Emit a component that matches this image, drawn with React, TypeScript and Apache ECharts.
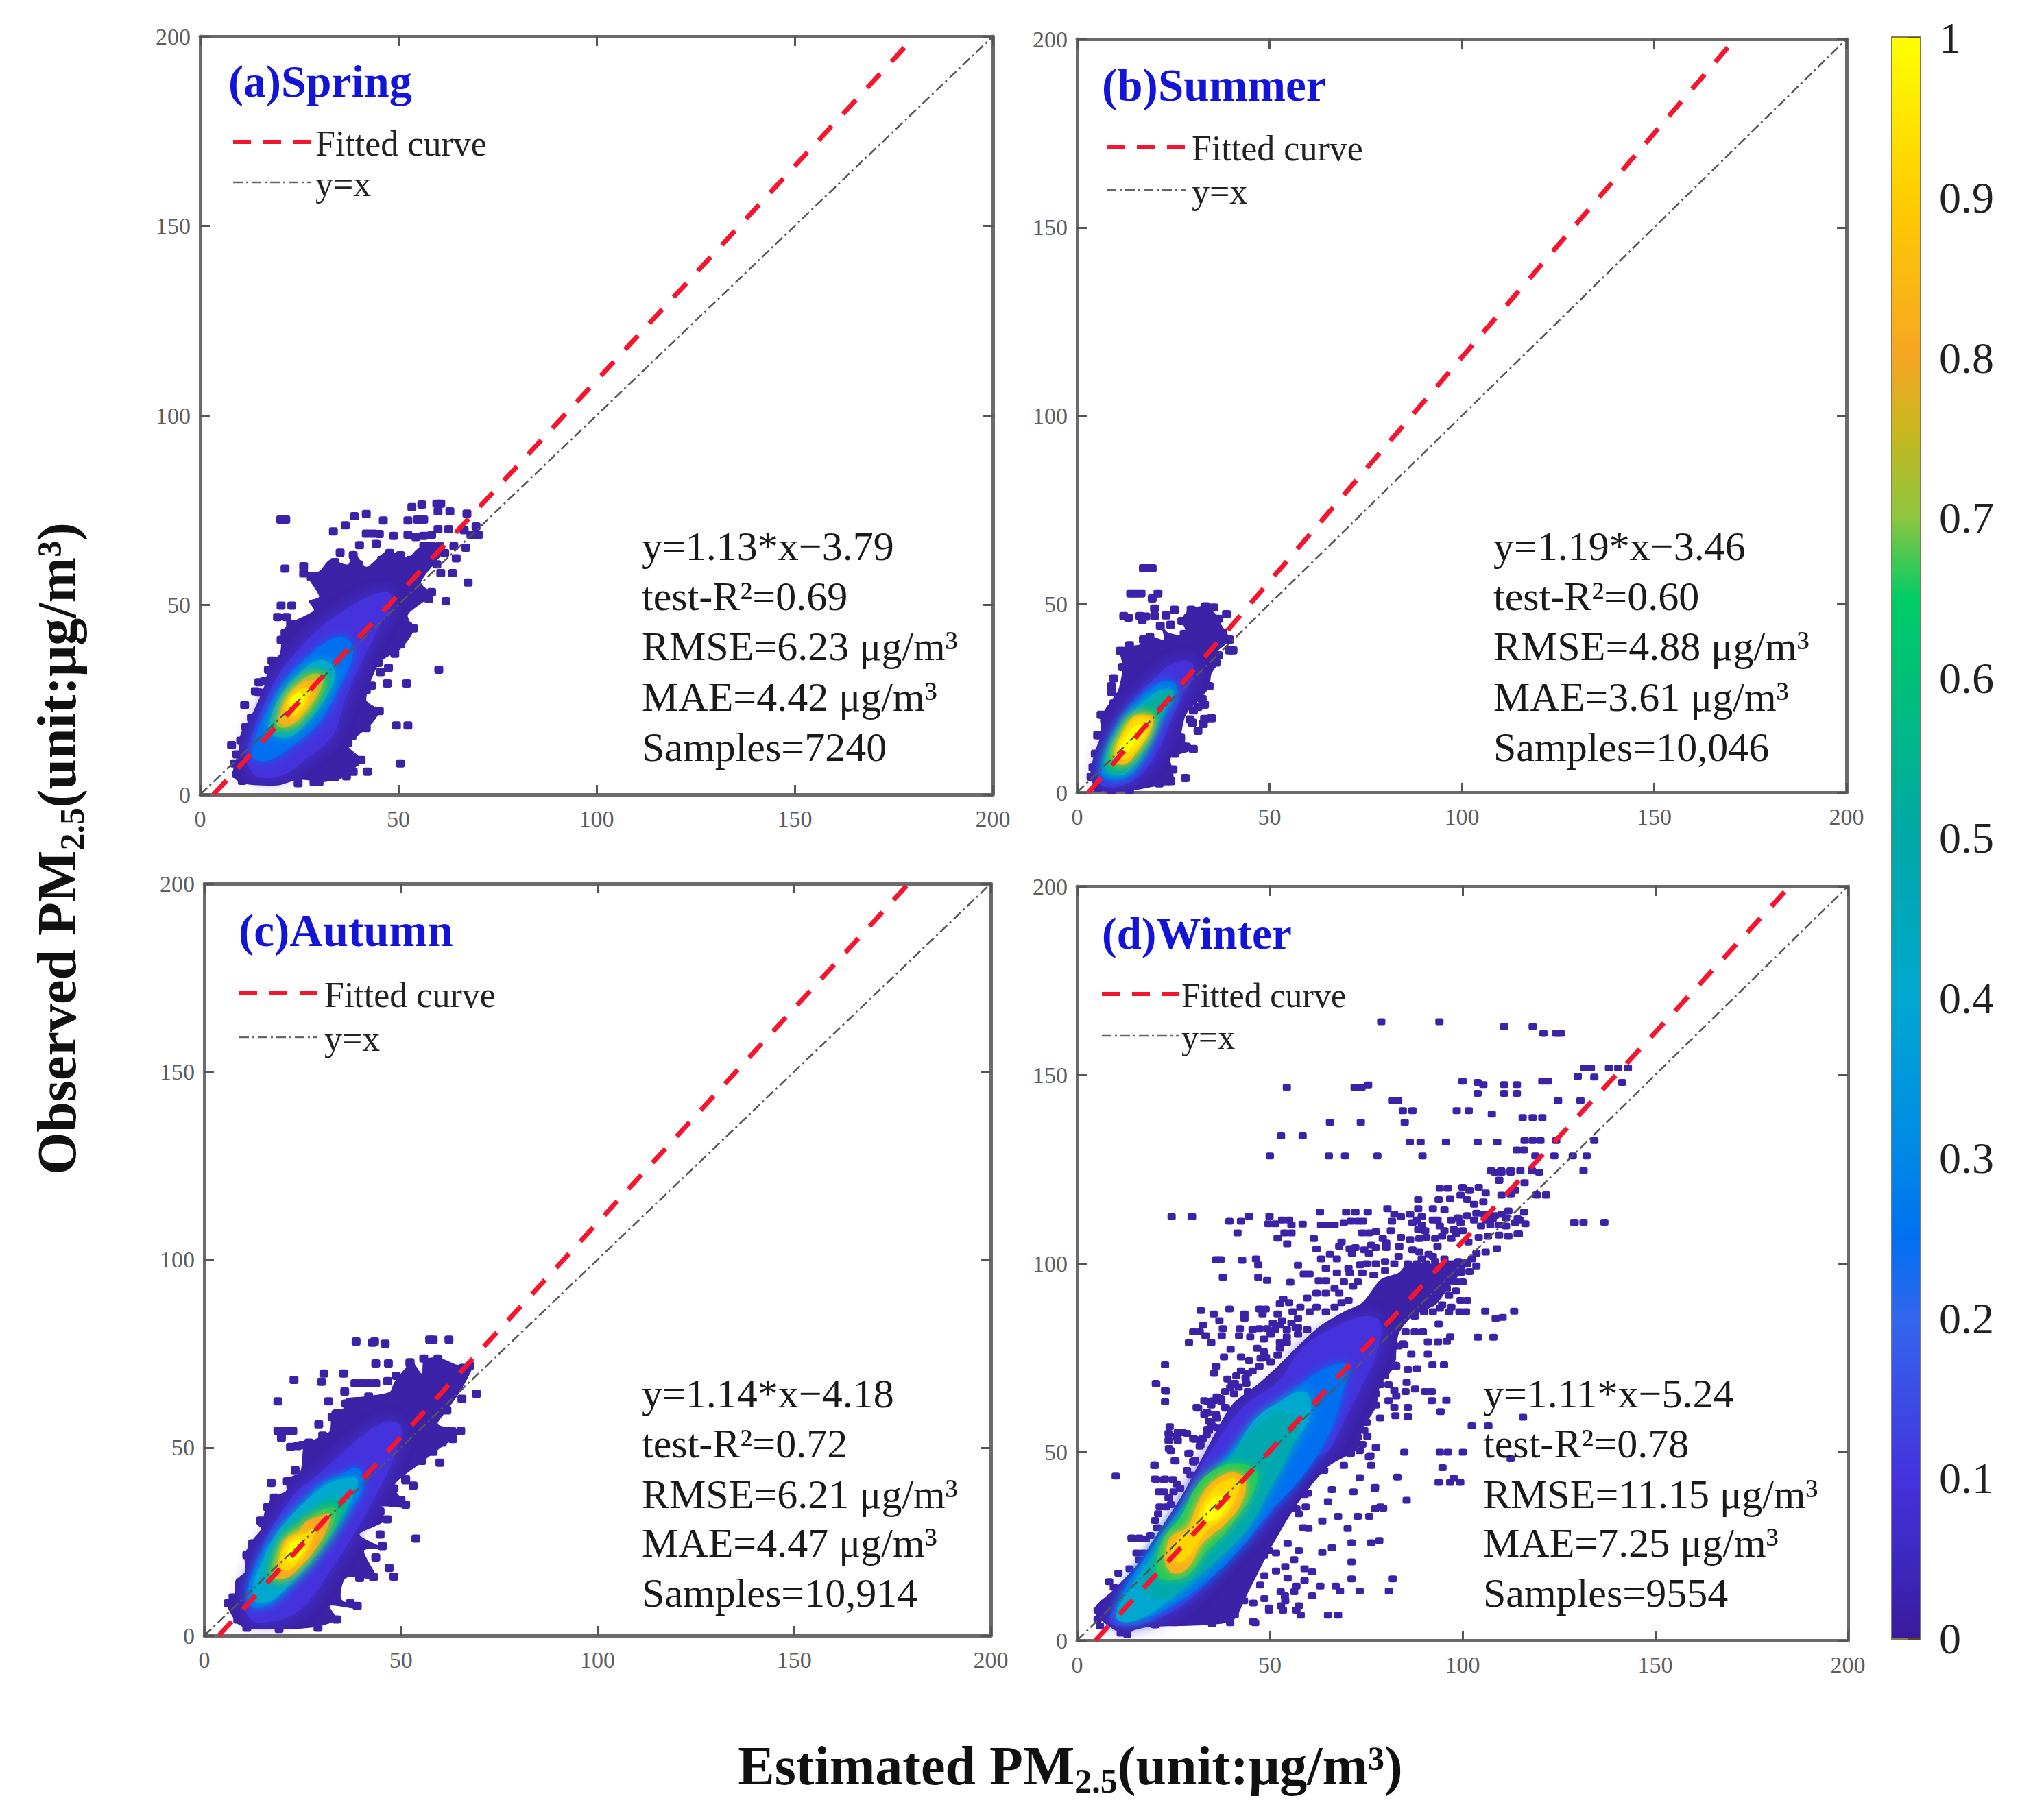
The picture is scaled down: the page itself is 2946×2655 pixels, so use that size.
import React, { useEffect, useRef } from "react";
import * as echarts from "echarts";

type P = number[];

const barTicks = ["0", "0.1", "0.2", "0.3", "0.4", "0.5", "0.6", "0.7", "0.8", "0.9", "1"];
const colorStops: [number, string][] = [
  [0, "#3a1a9a"], [0.05, "#3d28c0"], [0.1, "#4433dd"], [0.2, "#3366ee"], [0.25, "#0070f0"], [0.3, "#0088e8"],
  [0.4, "#00a8d0"], [0.5, "#00a8a8"], [0.6, "#00c078"], [0.65, "#00cc66"], [0.7, "#8cc63f"], [0.75, "#c4b820"],
  [0.8, "#f5a623"], [0.9, "#ffcc00"], [1, "#ffff00"],
];

const fitA: P[] = [[3.35, 0], [180.3, 200]];
const fitB: P[] = [[2.91, 0], [171, 200]];
const fitC: P[] = [[3.67, 0], [179.1, 200]];
const fitD: P[] = [[4.72, 0], [184.9, 200]];
const identity: P[] = [[0, 0], [200, 200]];

/* ---------- density contours: [level, outline] ---------- */
const springContours: [number, P[]][] = [
  [0.02, [[8.2,5.4],[10.2,3],[19.5,2.4],[24.7,3.9],[31.3,3.3],[35.9,4.5],[40.6,9.1],[37.3,13],[42.5,17.8],[45.2,22],[41.9,25],[45.2,34.7],[50.5,38.3],[53.8,43.2],[52.4,47.4],[58.4,52.8],[55.7,55.9],[61.7,64.9],[55.1,64.9],[52.4,62.5],[47.2,64.3],[41.9,60.1],[38.6,64.3],[37.3,60.7],[32.7,61.9],[30,58.9],[26.7,58.3],[30,52.2],[27.4,51],[28.7,48.6],[23.4,45.6],[20.8,43.2],[20.1,37.1],[17.5,34.7],[16.2,28.7],[12.9,20.8],[10.2,16],[9.6,11.2]]],
  [0.1, [[12.9,6.3],[14.8,4.5],[20.8,5.1],[26.7,9.4],[33.3,15.4],[36.6,25.1],[40.6,34.7],[45.2,44.4],[48.5,50.4],[47.2,53.4],[41.2,51.6],[34.6,47.4],[29.4,43.2],[23.4,36.5],[19.5,31.1],[16.2,23.9],[13.5,16.6],[11.5,10]]],
  [0.25, [[13.5,9.4],[17.5,9.1],[23.4,13],[30,19],[34.6,27.5],[38.6,37.1],[36.6,41.4],[32.7,40.8],[26.1,35.3],[20.8,29.3],[16.8,22],[14.2,16],[13.2,11.8]]],
  [0.4, [[17.5,16.6],[22.1,15.1],[26.1,18.1],[30.7,23.9],[34,31.1],[32.7,34.7],[29.4,35.3],[24.7,31.7],[20.8,26.9],[18.1,21.4]]],
  [0.6, [[18.5,17.2],[22.1,16.9],[26.7,20.2],[31.3,26.9],[32.3,31.7],[28.7,32.6],[24.7,29.9],[21.4,25.7],[19.5,20.8]]],
  [0.72, [[19.5,18.1],[22.8,18.1],[26.7,22],[30,26.9],[31,31.1],[28,31.7],[24.4,28.7],[21.8,25.1],[20.1,21.4]]],
  [0.82, [[20.4,18.7],[23.4,19],[27,23.2],[29.4,27.5],[29.4,29.9],[26.7,29.9],[23.7,27.5],[21.4,24.2],[20.4,21.4]]],
  [0.92, [[22.1,20.8],[24.7,21.4],[27.4,25.7],[28,28.1],[26.1,28.1],[23.1,25.7],[21.8,23.2]]],
  [1, [[23.4,22],[26.1,25.1],[24.7,26.9],[22.8,24.5]]],
];
const summerContours: [number, P[]][] = [
  [0.02, [[3.6,3.3],[5.3,0.6],[13,0.3],[21.3,1.8],[24.9,2.4],[24.9,5.8],[24.3,9.1],[30.2,11.5],[27.2,14.5],[27.8,19.4],[29,21.8],[31.4,24.2],[34.3,27.9],[34.9,31.5],[36.7,34.5],[36.1,37],[39.6,40.6],[37.3,44.8],[36.1,47.3],[33.1,49.4],[29.6,48.8],[27.2,46.1],[28.4,41.8],[23.7,42.4],[21.9,44.2],[22.5,40.6],[17.8,41.8],[16.6,39.4],[11.2,38.2],[11.8,33.3],[10.7,27.3],[8.3,23.6],[6.5,20.6],[5.9,14.5],[4.4,10.3],[3.3,4.2]]],
  [0.1, [[5.3,3.6],[7.1,1.5],[12.4,2.1],[17.2,5.5],[21.3,11.5],[24.3,18.8],[27.2,25.5],[30.2,30.9],[29.6,34.5],[25.4,34.5],[21.3,31.5],[16.6,26.7],[12.4,21.8],[9.5,16.4],[7.1,10.3]]],
  [0.25, [[6.2,4.5],[9.5,3.3],[13.6,4.5],[17.2,9.1],[20.1,15.2],[23.1,21.8],[26,27.3],[23.7,29.7],[19.5,27.9],[15.4,24.2],[11.5,19.4],[8.6,14],[6.8,8.5]]],
  [0.4, [[7.1,6.4],[10.7,4.5],[13.9,6.1],[17.2,10.9],[19.8,16.4],[22.8,22.4],[24.9,26.7],[22.2,27.3],[18.9,25.5],[15.4,22.4],[11.8,17.9],[8.9,12.7]]],
  [0.52, [[7.4,6.1],[10.9,5.2],[14.5,7.6],[17.8,12.7],[20.4,18.8],[23.7,24.2],[24.9,26.7],[23.1,26.7],[19.5,24.2],[16,21.2],[12.1,17],[9.5,12.1]]],
  [0.65, [[8.3,7.3],[11.5,7],[15.1,10.3],[18.6,15.5],[20.1,20.6],[17.8,21.2],[13.9,20],[10.9,15.2],[8.9,11]]],
  [0.82, [[9.8,8.2],[12.7,7.6],[16,11.5],[19,16.4],[19.8,20],[17.8,20.6],[14.5,20],[12.1,16.4],[9.8,11.5]]],
  [0.92, [[10.4,9.1],[12.7,8.8],[15.7,12.1],[18.3,16.4],[18.9,19.4],[16.6,20],[14.2,18.8],[12.1,15.2],[10.4,11.5]]],
  [1, [[11.2,10.9],[13.6,11.5],[16.6,15.2],[17.5,17.6],[15.7,17.9],[13.6,15.8],[11.5,12.7]]],
];
const autumnContours: [number, P[]][] = [
  [0.02, [[5.6,8.6],[8.5,3.1],[12,1.8],[23.7,1.8],[28.9,2.4],[33.6,4.3],[31.9,7.9],[39.5,7],[34.8,9.8],[36,15.3],[43.6,15.3],[40.6,22.6],[45.3,23.2],[39.5,26.9],[45.9,30.6],[44.7,34.2],[51.8,34.2],[48.2,39.7],[55.8,46.5],[58.8,48.9],[65.2,54.4],[59.4,56.2],[61.7,59.9],[64.6,64.2],[68.1,71.5],[64,72.1],[59.4,74],[55.8,73.3],[55.3,69.7],[52.9,72.7],[50,69.7],[48.2,67.2],[47.1,64.8],[40.6,63.6],[36,63],[35.4,60.5],[32.5,59.9],[31.9,54.4],[28.9,52.6],[25.4,50.7],[24.9,47.1],[24.3,43.4],[20.8,41.6],[20.8,38.5],[17.3,36.7],[15.5,33.6],[14.3,28.1],[12,25.1],[10.2,21.4],[10.4,17.1],[8,14.7],[7.5,10.4]]],
  [0.1, [[10.4,7],[12.5,3.8],[16.1,3.6],[21.9,5.2],[26.6,9.2],[31.9,17.1],[38.3,27.5],[44.2,38.5],[48.8,48.9],[50,55.6],[45.9,56.8],[39.5,52.6],[34.8,48.3],[28.9,42.8],[23.7,38.5],[19.5,32.6],[15.9,26.3],[12.6,18.3],[10.8,12]]],
  [0.25, [[10.8,9.6],[12.6,7.3],[16.7,8.6],[21.3,12.8],[26.6,18.9],[31.9,26.3],[36.5,33],[40.4,39.7],[38.9,44.6],[34.8,42.8],[30.1,40.3],[24.9,34.8],[19,28.1],[14.9,22],[11.8,14.7]]],
  [0.4, [[12.6,10.1],[13.7,8.6],[17.8,9.8],[23.1,15.3],[27.8,20.8],[33,28.7],[37.1,35.5],[38.9,41.6],[34.8,41.6],[31.3,40.3],[27.2,37.2],[21.9,31.7],[17.8,26.2],[14.3,18.8],[12.6,14.1]]],
  [0.55, [[16.1,15],[18.4,14.1],[23.7,17.1],[28.9,22.6],[33.6,29.3],[36,34.8],[34.2,36.1],[31.3,35.8],[26.6,32.4],[21.9,28.7],[18.4,23.2],[16.7,18.3]]],
  [0.66, [[17,15.3],[19,14.7],[23.1,17.1],[27.8,22.6],[31.9,28.1],[33.6,33.6],[31.3,33.9],[28.4,32.4],[24.9,29.6],[20.8,26.3],[17.8,20.8]]],
  [0.8, [[17.8,15.6],[20.8,15.3],[24.3,18.3],[28.4,23.2],[31.3,28.7],[31.9,32.4],[29.5,31.8],[26,30.3],[23.7,27.5],[20.8,25.7],[19,20.8]]],
  [0.92, [[19.6,17.7],[21.9,17.7],[24.9,21.4],[27.2,25.1],[28.4,28.7],[26,27.5],[23.1,26.3],[21.1,24.5],[19.6,21.4]]],
  [1, [[21.1,20.2],[23.1,20.2],[25.4,23.2],[24.6,25.1],[22.5,25.1],[21.3,22.9]]],
];
const winterContours: [number, P[]][] = [
  [0.02, [[4.9,6.7],[11,2.2],[18.2,3.5],[40,5],[44,12],[50,24],[57,36],[65,46],[72.8,50.8],[73.9,55.7],[77.5,61.8],[78.7,67.8],[82.3,72.7],[83.4,81.2],[87,86],[93,89],[96,93],[100,98],[103.6,101.8],[98.3,100.5],[93.5,99.9],[85.8,99.9],[83.4,97.5],[78.7,95.7],[74,89.6],[69.2,87.2],[63.3,83.6],[57.9,78.7],[52,72.7],[46.7,67.8],[40.1,62.4],[32.6,48.8],[27.9,39.7],[20,27],[15.5,20],[9,13],[4.9,9.2]]],
  [0.1, [[8.3,5],[13.6,3.8],[23.1,6.8],[31.4,12.9],[39.7,22.6],[48.6,31.8],[60.5,48.2],[65,50.2],[69.8,59.3],[74,67.8],[77.5,75.7],[78.7,84.2],[75.1,86],[68,83.6],[59,78],[51.6,68.2],[43.3,62.2],[33.8,48.8],[26.7,36],[19.5,22.5],[12,11.5]]],
  [0.25, [[10.5,7.5],[16,5.6],[25,9.5],[34,16],[42,24],[50,34],[58,43],[65,54],[69,66],[70,73],[64,72],[56,66],[48,57.5],[40,50],[32,41],[24,31],[17,21],[12,13]]],
  [0.4, [[10.1,6.2],[14.2,5],[21.9,9.2],[30.2,16.5],[36.8,22.6],[44.5,33.6],[54.6,50],[60.5,60.3],[59,66],[52,63],[45.7,58],[39.2,47],[30.8,35.4],[21.3,24.5],[13.6,13.5]]],
  [0.48, [[17,14.5],[22,11],[30,16],[37,22],[44.5,30],[50,40],[55,50],[57,58],[52,60],[45,55],[39,47],[32,40],[26,31],[21,24]]],
  [0.66, [[21,17],[24.5,16],[29,17.5],[33,23],[37,27],[41,32],[46,40],[46.5,45],[41,47],[36,45.5],[31,41],[27,33],[23,28],[21,23]]],
  [0.82, [[22.8,20.8],[24.9,17.8],[28.5,19],[32,25.1],[34.4,27.5],[38.6,31.1],[42.7,36.6],[43.6,42.7],[40.9,44.5],[36.8,43.3],[32.6,39],[30.2,33.6],[28.5,29.9],[24.3,27.5],[23.1,23.9]]],
  [0.92, [[26.1,20.8],[29.1,22.6],[33.2,28.7],[38.6,33.6],[41.5,39],[42.1,42.7],[39.1,42.7],[35,39.7],[32,34.8],[29.7,29.9],[26.1,26.9],[24.3,23.2]]],
  [1, [[33.2,31.8],[36.2,32.4],[39.1,36.6],[37.9,38.4],[35,37.2],[33.2,34.5]]],
];

/* ---------- isolated samples and the jagged fringe ---------- */
const springPoints: P[] = [[20.3,72.5],[21.6,72.5],[53.4,75.8],[55.9,76.5],[59.7,76.7],[60.7,76.7],[60,74.7],[63,74.7],[67.3,74.1],[38.9,73.4],[41.9,74],[46.2,72.3],[52.4,72.3],[54.8,72.5],[56.4,72.5],[36.6,71],[33.6,69.4],[41.9,68.8],[43.5,68.8],[45.2,68.7],[48.8,68.2],[52.4,68.5],[54.4,67.9],[56.4,68.2],[58.4,68.5],[60,70],[62.7,70],[66.6,69.7],[69.6,70.7],[70.2,68.5],[68.3,68.5],[40.2,65.8],[44.4,66.1],[56.4,65.5],[58.4,65.5],[60.4,65.5],[64,65.5],[67,65.1],[55.7,63.1],[64.6,62.3],[35.3,63.8],[21.4,59.6],[26.1,60.2],[60.7,58.4],[63.7,58.4],[67.6,55.9],[62,51],[20.4,49.8],[23.1,49.8],[19.5,46.8],[47.5,33.4],[60.2,32.9],[47.2,29.3],[52.1,29.3],[14.8,29.6],[13.9,27.2],[11.2,23.6],[49.5,18.2],[52.4,18.2],[50.5,8.2],[38.3,15.4],[42.2,6],[38.6,6],[36.9,4.8],[34,4.6],[7.9,13],
  [26.1,58.3],[28,57.4],[30,56.2],[32.7,60.1],[34,61.3],[35.9,58.9],[38.6,63.1],[39.9,60.7],[45.8,61.9],[47.8,63.7],[50.5,63.1],[53.1,61.9],[57.7,65.5],[61.7,63.7],[59.7,60.7],[21.8,46.8],[22.8,45],[21.4,42.6],[20.4,40.8],[18.1,35.3],[17.2,32.9],[16.2,29.9],[14.8,26.9],[12.9,20.2],[11.5,17.8],[10.2,14.2],[9.2,10.6],[8.6,8.2],[9.2,5.4],[10.6,3.6],[58.4,53.4],[57.7,51.6],[53.8,43.8],[52.4,44.4],[50.5,39.6],[49.1,37.1],[44.9,34.7],[45.5,32.3],[43.2,28.7],[41.9,27.5],[45.2,22],[43.2,20.8],[41.9,17.5],[39.2,19],[37.3,13.6],[40.6,9.1],[38.9,8.5],[35.9,8.8],[34.6,5.1],[30,3.3],[28.7,3.3],[24.7,3]];
const summerPoints: P[] = [[17.2,59.5],[18.3,59.5],[19.5,59.5],[13.9,52.8],[15.1,52.8],[16.6,52.8],[21,52.8],[19.5,51.5],[20.1,48.8],[25.3,48.5],[12.1,46.8],[13.3,46.4],[16.3,46.8],[17.8,46.7],[16.9,45.8],[20.1,46.8],[23.1,47],[21.6,44.2],[24.3,44.5],[38.8,47.3],[40.5,37.7],[39.6,37.7],[9.5,30.3],[8.9,28.2],[33.1,23.3],[34.9,19.7],[33.1,19.5],[32.8,18.2],[31.4,16.4],[29.9,18.5],[28.1,3.8],[23.4,3],[5.6,15.2],
  [11.2,37.6],[13.6,39.1],[13,34.5],[11.8,33.3],[8.9,26.7],[9.5,23.6],[6.2,20.6],[7.1,19.4],[5.3,15.2],[6.8,15.2],[4.7,10.3],[4.1,6.7],[3.6,4.2],[5.3,1.2],[8.9,0.6],[13.6,0.6],[21.3,2.4],[24.3,3],[24.9,6.1],[25.4,10.3],[30.2,11.5],[28.4,12.1],[26.9,14.5],[30.2,21.8],[31.4,22.7],[29.3,19.4],[32.5,24.8],[34.3,28.2],[36.1,34.5],[36.7,36.4],[39.6,40.6],[37.9,42.4],[36.7,46.1],[33.4,49.4],[35.5,49.1],[29.6,48.5],[27.2,45.5],[27.8,42.1],[18.9,41.2],[17.2,40.6]];
const autumnPoints: P[] = [[38.6,78.2],[42.7,77.9],[43.3,78.2],[46,77.6],[57.3,78.7],[58.2,78.7],[62.2,78.7],[43.6,72.4],[46.8,72.4],[52.3,72.4],[30.4,69.7],[29.8,67.5],[35.4,69.7],[22.8,68],[38.3,67.1],[40,67.1],[41.8,67.1],[43.6,67.1],[46.6,67.7],[35.7,64.9],[18.7,62.3],[31.6,62.3],[69.2,64.3],[65.5,63],[29.1,56.2],[18.7,54.4],[20.5,54.4],[22.5,54.4],[19.6,52.6],[21.9,50.2],[23.7,50.4],[59.9,46],[17,40.6],[51.2,41.3],[53.1,39.9],[53.8,25.8],[14.9,30],[47,18],[48.2,15.7],[63.2,52.3],
  [6.1,8.6],[7.3,10.1],[9.1,14.1],[10.8,21.4],[12.3,24.5],[14.3,30.6],[16.1,34.2],[17.8,36.7],[21.1,41],[23.1,44],[24.9,50.7],[26.6,51.3],[30.1,53.2],[32.5,58.1],[36,61.7],[41.8,63.6],[48.8,69.1],[52.3,72.7],[55.8,73.7],[59.4,73.7],[62.3,71.5],[65.8,71.2],[67.5,71.8],[60.5,66.6],[64.6,66.6],[61.7,59.9],[65.2,54.4],[62.9,54.4],[60.5,51.3],[58.2,48.9],[55.3,46.5],[51.2,41.6],[48.2,39.1],[51.2,34.8],[50,36.1],[44.7,33],[46.5,30.9],[44.7,26.9],[45.3,23.8],[43.6,20.8],[43,15.6],[39.5,15.3],[38.9,7.9],[37.1,8.6],[33.6,4.3],[28.9,2.1],[19,1.8],[10.8,2.1],[8.5,4.3]];
const winterSparseTop: P[] = [[78.9,164.1],[94,164.1],[110.8,162.8],[118.2,162.8],[121,161],[124.3,161],[125.5,161],[54.4,146.7],[72,146.7],[73.8,146.7],[75.5,147.3],[100,148.3],[103.9,148],[105.4,147.4],[103.9,145.1],[110.8,147.4],[110.8,145.1],[114.1,147.4],[114.1,145.1],[120.7,148.3],[122.2,148.3],[124.8,143.2],[129.9,149.6],[131.6,151.8],[133.3,151.8],[134.2,149.4],[130.6,143.2],[138,151.8],[140.4,151.8],[142.9,151.8],[141.4,148],[81.9,143.2],[83.3,143.2],[84.5,140.5],[87,140.5],[85,137.4],[65.6,137.4],[73.6,137.4],[98.5,140.5],[101.6,140.5],[107.6,139.6],[115.6,138.7],[118.2,138.7],[120.7,138.7],[52.9,133.8],[58.5,133.8],[86.3,132.2],[89.1,132.2],[95.7,132.2],[103.9,132.2],[109,132.2],[116.1,132.6],[118.2,132.6],[120.2,132.6],[124.3,132.6],[134.2,132.6],[114.1,130.1],[115.9,130.1],[50,128.5],[65.3,128.5],[69.5,128.5],[77.9,128.5],[89.6,128.5],[118.9,128.5],[123.8,128.5],[128.6,128.5],[132.2,128.5],[131.4,124.6],[107.4,124.6],[110,124.6],[112.5,124.6],[115,124.6],[118,124.6],[109.5,122],[116.1,121.4],[119.2,118.2],[121.7,118.2],[128.9,110.9],[131.4,110.9],[136.8,110.9],[24.5,112.4],[29.7,112.4],[119.9,124.2],[116,113.6],[116.3,110.5],[114.6,107.8],[114.3,111.8],[129.1,110.8]];
const winterMiddle: P[] = [[29.8,112.4],[39.5,111.2],[42.5,111.2],[44.6,112.5],[49.9,112.5],[41.6,108.1],[49.6,110.5],[51.4,110.5],[53.2,111.5],[55,111.5],[55.6,110.2],[58.5,110.4],[63,113.6],[63.3,110.2],[65,110.2],[66.8,110.2],[69.2,110.8],[71,111.2],[72.8,111.2],[74.2,111.2],[69.8,113.6],[72.2,113.6],[75.4,113.6],[80.5,114.5],[53.8,108.1],[55.6,108.1],[52,106.7],[54.5,105.2],[61.4,106.6],[62.1,103.8],[74,108.1],[75.7,108.1],[77.5,108.4],[79.3,106.6],[80.2,105.4],[81.4,108.7],[68.6,105.7],[68,104.5],[70.7,103.9],[72.2,104.2],[71.3,102.7],[74.5,103.6],[76.3,104.8],[75.7,102.7],[77.5,104.2],[80.2,104.2],[83.6,104.5],[82.3,113],[84,112.4],[86.4,113],[88.2,111.5],[89.4,112.4],[88.5,116.9],[88.5,114.5],[92.3,114.5],[95.3,114.2],[93.8,116.9],[96.8,117.2],[94.1,119.9],[96.2,119.9],[92.3,111.5],[93.5,111.5],[88.5,109],[95.3,108.7],[97.7,109],[97.1,111.5],[98.9,112.1],[81.7,111.2],[84,106.9],[86.4,106.3],[88.8,106.6],[90.6,106.9],[92.9,106.6],[97.1,106.6],[93.5,104.5],[87,103.6],[88.8,103],[91.2,102.4],[92.3,101.8],[89.4,101.2],[100,120.2],[101.8,119.3],[99.5,118.1],[101.2,116.9],[103,115.7],[105.4,116.3],[106,118.7],[104.2,120.2],[108.4,124.2],[110.1,124.2],[112.5,124.2],[109.5,122.1],[110.1,118.1],[112.5,118.4],[113.7,119.3],[119.3,118.1],[121.7,118.1],[101.2,112.7],[103,111.5],[103.6,113.3],[106,111.5],[107.8,111.8],[110.1,113],[111.3,112.1],[109.5,110.2],[113.7,110.8],[114.9,111.5],[104.2,106.9],[106.6,107.2],[109.5,107.5],[111.9,107.2],[114.3,107.8],[108.9,103.9],[101.5,105.7],[103.6,102.7],[106,103],[102.4,101.2],[103.6,99.3],[101.8,97.8],[99.5,97.5],[100,95.1],[98.3,92.7],[99.5,90.2],[101.2,90.2],[99.2,87.2],[100.9,87.2],[96.5,87.2],[94.1,88.1],[105.9,87.3],[108.6,85.4],[110.4,85.7],[113.4,87.3],[93.8,83.9],[89.7,81.8],[87.6,81.8],[85.2,81.8],[84.9,78.4],[91,79.2],[93.6,79.2],[95.9,79.3],[96.8,80.5],[104,80.4],[108,80.4],[86.7,75.9],[91,75.9],[82.5,73],[92.2,73.1],[95.2,73.1],[85.8,71.8],[88.2,72.1],[85.5,68.4],[80.8,67.8],[82.3,66.3],[85.2,66],[87.7,66.7],[90.3,66],[92,66],[82.8,64.8],[80.8,63.6],[92,63.6],[95.8,63.7],[82.3,61.8],[82.6,59.6],[85.8,61.8],[85.8,59.3],[94.3,60.7],[78.6,59],[75.4,60.5],[75.1,57.8],[102.4,56.9],[106.7,56.9],[77.5,51.2],[84.9,49.9],[94.1,49.9],[96.2,49.9],[100.1,49.9],[75.7,48.7],[115.7,59.2],[112.5,48.2],[94.8,45.8],[83.1,43.3],[93.8,41.9],[96.8,41.9],[97.7,43],[99.4,41.9],[77.2,40.2],[85.5,37.2],[78.7,35.4]];
const winterDenseBand: P[] = [[87,110.8],[89.4,110.2],[90.3,108.7],[94.1,109.9],[94.7,107.2],[98.3,107.8],[100,108.7],[99.5,110.8],[105.4,113],[108.4,112.7],[107.2,110.2],[104.8,109.9],[111.3,109.9],[111.9,113.9],[85.8,99.9],[88.2,99.9],[90.6,99.9],[92.9,100.5],[95.3,101.2],[97.1,99.9],[98.9,100.5],[101.2,99.9],[87,97.5],[89.4,96.9],[93.5,96.9],[95.3,97.5],[97.7,98.7],[96.5,96.9],[99.5,99],[95.9,93.3],[98.3,95.1],[96.5,91.5],[94.7,89],[97.1,88.4],[92.3,87.2],[90,87.2],[87.6,86],[75.1,99.9],[77.5,99.9],[79.9,100.5],[82.3,99.9],[83.4,101.8],[74,97.5],[76.9,96.9],[79.9,98.1],[72.8,95.1],[71.6,93.9],[68,92.1],[70.4,90.2],[68.6,89.6],[66.8,88.4],[64.5,87.2],[62.1,88.4],[60.3,87.2],[57.9,88.4],[57.3,85.4],[55.6,84.2],[52.6,83.6],[54.4,80.5],[56.7,83],[59.7,82.4],[61.5,80.5],[50.8,84.2],[50.2,81.2],[48.4,79.9],[52.6,77.5],[52,75.7],[49,75.1],[50.2,73.9],[47.3,72.7],[45.5,71.5],[43.7,69.6],[41.9,67.2],[44.3,66],[40.7,65.4],[37.2,64.2],[34.8,62.4],[33,59.9],[36,59.9],[38.4,61.8],[34.2,58.1],[36.6,56.3],[33.6,54.5],[31.8,51.5],[30.6,47.8],[83.4,78.1],[84.6,78.7],[81.1,77.5],[81.7,75.1],[82.8,72.7],[79.9,70.2],[78.7,67.8],[77.5,65.4],[77.5,62.4],[74,64.2],[72.8,61.8],[71.6,59.9],[73.4,58.1],[71,56.3],[74.5,55.7],[72.8,53.9],[69.8,53.3],[69.2,51.5],[74,52],[68,49.6],[71,49.6],[66.2,48.4]];
const winterLeftFringe: P[] = [[36,101],[37.2,101],[42.8,100.8],[46.4,101.2],[47,99.6],[37.8,96.3],[47,96.3],[49.3,95.5],[55.3,95],[57.3,99.5],[58.8,97.2],[60.3,97.2],[63.3,101.2],[65.6,102.4],[67.4,101.2],[64.5,98.7],[67.4,97.5],[62.7,95.4],[64.5,95.4],[70.4,98.7],[70.7,97.5],[73.4,99.6],[53.5,90.5],[55,89.6],[52.6,89.3],[59.7,90.8],[62.1,92.1],[64.5,92.1],[66.8,93.3],[69.2,95.1],[32.1,87.5],[39.5,87.9],[43.4,86.6],[43.4,85.4],[47.3,87.9],[48.9,87.9],[48.1,86.6],[35.4,86.6],[36.9,84.8],[37.8,82.7],[37.5,80.8],[32.7,83.6],[30.1,81.8],[31.8,81.8],[33.3,80.8],[34.8,79],[29,79],[42.2,82.7],[42,80.8],[45.5,82.4],[47.3,82.7],[44.9,80.5],[49.3,82.7],[52,86.6],[53.2,84.8],[54.4,82.4],[51.4,82.4],[52.6,79],[54.4,79],[55.9,87.2],[57.3,83],[57.3,81.2],[46.7,77.5],[48.4,76.6],[47.6,74.8],[39.8,77.2],[38.1,75.2],[42.5,75.2],[44.6,74.2],[36,72.7],[35.5,70.8],[39,69.3],[41.3,70.2],[42.5,71.5],[44.3,70.8],[38.4,66],[40.1,67.8],[31,61.8],[33,63.6],[35.4,63.6],[33.6,60.5],[34.8,57.5],[34.2,55.7],[27.4,55.1],[30.1,53.6],[32.4,53.3],[28.9,49.6],[30.1,47.5],
  [22.8,73.1],[20.4,68.2],[22.8,66.3],[22.8,63.3],[10,43.6],[20,46.4],[23.8,54.7],[25.8,54.1],[23.8,50.9],[25.3,47.7],[28.9,49.6],[20.2,42.8],[22.8,42.8],[21.2,39.4],[14.1,27.2],[16.1,27.2],[20.5,68],[23.1,66.1],[31.4,61.6],[33.8,63.4],[36.2,64.6],[33.8,60.3],[37.4,63.4],[39.7,67],[40.9,68.2],[43.9,68.2],[38.6,61.6],[24,56.7],[23.7,54.9],[26.1,55.2],[28.5,54.9],[23.7,53],[26.1,53],[30.5,53.3],[32.6,53.6],[35.3,56.7],[33.8,56],[36.2,59],[32,51.8],[24.3,50.3],[29.1,49.7],[25.5,47.6],[30.2,47.3],[20.2,46.4],[28.5,45.1],[29.4,43.9],[20.5,42.7],[22.5,42.7],[24.8,42.7],[25.8,41.5],[22.5,39.4],[25,39.4],[26.7,40.3],[23.7,37.8],[21.4,35.4],[23.1,35.4],[24.3,36],[21,33.6],[20.2,31.8],[20.8,29.9],[19,27.8],[14.2,26.9],[16,26.9],[17.8,26.9],[15.4,23.2],[17.2,23.2],[16,21.4],[13.6,19],[10.7,17.8],[8.3,15.6],[9.5,14.1],[7.1,9.9],[5.3,8],[5.3,5.6],[5.9,3.8],[11.3,1.9],[13,1.6],[13.6,3.2],[20.2,4.1],[25.5,4.7],[30.2,5],[35,4.4],[39.7,4.7]];
const winterRightFringe: P[] = [[40.9,6.8],[37.4,8],[45.7,5],[53.4,8],[56.9,8],[57.5,9.2],[49.8,8],[52.8,12.9],[56.3,12.9],[54,10.5],[43.3,10.5],[45.7,9.9],[48.6,11.1],[47.5,14.7],[48.6,17.2],[51.6,18.4],[54.6,16.5],[59,15.9],[57.5,23.8],[56.3,21.4],[54,19.6],[59,19],[49.8,23.8],[51.6,23.2],[54.6,25.7],[48.6,22.6],[57.5,33.6],[59.3,35.4],[58.7,29.9],[59.9,39],[56.9,38.4],[38.6,12.9],[36.2,10.5],[37.9,6.8],[34.4,6.8],[31,8],[76.1,49],[76.3,46.4],[73.3,43.2],[77.3,40.6],[71.7,39.4],[66.1,40],[65.1,36.8],[77.3,34.9],[79.4,35.1],[72.8,32.9],[75.8,32.9],[67.7,32.9],[70.2,29.7],[76.3,25.9],[78.4,26.5],[81.9,16.3],[80.9,13.1],[71.2,16.3],[73.3,13.1],[68.2,13.1],[65.1,6.7],[67.7,6.7],[63.1,14.4],[67.1,14.4],[58,6.7],[61,11.8],[71.2,25.9],[71.2,20.8],[61,18.2],[63.6,23.3],[66.1,24.6],[56.9,14.4],[52.9,9.2],[46.2,4.7],[49.8,8.6],[53.9,11.8],[63.6,31.7],[60,29.7],[56.9,34.9],[59,38.7],[64.1,45.1],[69.2,46.4],[73.3,50.3],[75.3,54.1]];
const winterPoints: P[] = [...winterSparseTop, ...winterMiddle, ...winterDenseBand, ...winterLeftFringe, ...winterRightFringe];

/* ---------- texts ---------- */
const titles = ["(a)Spring", "(b)Summer", "(c)Autumn", "(d)Winter"];
const springStats = ["y=1.13*x−3.79", "test-R²=0.69", "RMSE=6.23 μg/m³", "MAE=4.42 μg/m³", "Samples=7240"];
const summerStats = ["y=1.19*x−3.46", "test-R²=0.60", "RMSE=4.88 μg/m³", "MAE=3.61 μg/m³", "Samples=10,046"];
const autumnStats = ["y=1.14*x−4.18", "test-R²=0.72", "RMSE=6.21 μg/m³", "MAE=4.47 μg/m³", "Samples=10,914"];
const winterStats = ["y=1.11*x−5.24", "test-R²=0.78", "RMSE=11.15 μg/m³", "MAE=7.25 μg/m³", "Samples=9554"];

const SERIF = "'Liberation Serif', 'Times New Roman', serif";
const INDIGO = "#3b22a6";

const panels = [
  { box: [292, 53, 1156, 1106], contours: springContours, points: springPoints, fit: fitA, stats: springStats, sym: [13, 12], tx: 333, ty: 118, lx: [340, 453], ltx: 460, ly: [209, 268], sx: 936, sy: [797, 870, 943, 1017, 1090], tf: 66, lf: 52 },
  { box: [1571, 57, 1122, 1099], contours: summerContours, points: summerPoints, fit: fitB, stats: summerStats, sym: [13, 12], tx: 1607, ty: 124, lx: [1614, 1729], ltx: 1738, ly: [216, 279], sx: 2178, sy: [797, 870, 943, 1017, 1090], tf: 67, lf: 52 },
  { box: [298, 1289, 1147, 1097], contours: autumnContours, points: autumnPoints, fit: fitC, stats: autumnStats, sym: [13, 12], tx: 348, ty: 1357, lx: [349, 462], ltx: 473, ly: [1451, 1515], sx: 936, sy: [2033, 2106, 2180, 2251, 2324], tf: 67, lf: 52 },
  { box: [1571, 1293, 1124, 1100], contours: winterContours, points: winterPoints, fit: fitD, stats: winterStats, sym: [12, 10], tx: 1607, ty: 1362, lx: [1607, 1719], ltx: 1723, ly: [1452, 1513], sx: 2163, sy: [2033, 2106, 2180, 2251, 2324], tf: 65, lf: 50 },
];

function hexToRgb(h: string) {
  return [parseInt(h.slice(1, 3), 16), parseInt(h.slice(3, 5), 16), parseInt(h.slice(5, 7), 16)];
}
function colorAt(v: number) {
  for (let i = 1; i < colorStops.length; i++) {
    if (v <= colorStops[i][0]) {
      const [a, ca] = colorStops[i - 1];
      const [b, cb] = colorStops[i];
      const t = (v - a) / (b - a);
      const A = hexToRgb(ca), B = hexToRgb(cb);
      return `rgb(${A.map((x, k) => Math.round(x + (B[k] - x) * t)).join(",")})`;
    }
  }
  return colorStops[colorStops.length - 1][1];
}

function axisCommon(gridIndex: number) {
  return {
    gridIndex, type: "value", min: 0, max: 200, interval: 50,
    splitLine: { show: false },
    axisLine: { show: true, onZero: false, lineStyle: { color: "#6b6b6b", width: 5 } },
    axisTick: { show: true, inside: true, length: 14, lineStyle: { color: "#555", width: 3 } },
  };
}
const labelStyle = { color: "#5c5c5c", fontFamily: SERIF, fontSize: 34, margin: 14 };

function buildOption() {
  const grid: any[] = [];
  const xAxis: any[] = [];
  const yAxis: any[] = [];
  const series: any[] = [];
  const graphic: any[] = [];

  panels.forEach((p, i) => {
    const [left, top, width, height] = p.box;
    grid.push({ left, top, width, height, show: false });
    const xMain = xAxis.length, yMain = yAxis.length;
    xAxis.push({ ...axisCommon(i), position: "bottom", axisLabel: { ...labelStyle, margin: 18 } });
    xAxis.push({ ...axisCommon(i), position: "top", axisLabel: { show: false } });
    yAxis.push({ ...axisCommon(i), position: "left", axisLabel: labelStyle });
    yAxis.push({ ...axisCommon(i), position: "right", axisLabel: { show: false } });

    const on = { xAxisIndex: xMain, yAxisIndex: yMain };
    series.push({
      type: "scatter", ...on, silent: true, z: 2, symbol: "roundRect", symbolSize: p.sym,
      itemStyle: { color: INDIGO, opacity: 1 }, data: p.points,
    });
    p.contours.forEach(([level, outline], k) => {
      const fill = k === 0 ? INDIGO : colorAt(level);
      series.push({
        type: "custom", ...on, silent: true, z: 3 + k * 0.01, clip: true,
        encode: { x: 0, y: 1 }, data: outline,
        renderItem: (params: any, api: any) => {
          if (params.dataIndex !== 0) return null;
          return {
            type: "polygon",
            shape: { points: outline.map((q) => api.coord(q)), smooth: k === 0 ? 0.25 : 0.4 },
            style: k === 0 ? { fill } : { fill, shadowBlur: k === 1 ? 24 : 16, shadowColor: fill },
          };
        },
      });
    });
    series.push({
      type: "line", ...on, silent: true, z: 6, symbol: "none", data: identity,
      lineStyle: { color: "#555", width: 2.5, type: [14, 5, 3, 5] },
    });
    series.push({
      type: "line", ...on, silent: true, z: 7, symbol: "none", data: p.fit,
      lineStyle: { color: "#f5152e", width: 7, type: [28, 24] },
    });

    graphic.push({
      type: "text", x: p.tx, y: p.ty, z: 20,
      style: { text: titles[i], fill: "#1414d8", fontFamily: SERIF, fontWeight: "bold", fontSize: p.tf, verticalAlign: "middle" },
    });
    graphic.push({
      type: "line", z: 20, shape: { x1: p.lx[0], y1: p.ly[0] - 2, x2: p.lx[1], y2: p.ly[0] - 2 },
      style: { stroke: "#f5152e", lineWidth: 6, lineDash: [26, 18] },
    });
    graphic.push({
      type: "line", z: 20, shape: { x1: p.lx[0], y1: p.ly[1] - 2, x2: p.lx[1], y2: p.ly[1] - 2 },
      style: { stroke: "#666", lineWidth: 2.5, lineDash: [14, 5, 3, 5] },
    });
    ["Fitted curve", "y=x"].forEach((t, k) => {
      graphic.push({
        type: "text", x: p.ltx, y: p.ly[k], z: 20,
        style: { text: t, fill: "#222", fontFamily: SERIF, fontSize: p.lf, verticalAlign: "middle" },
      });
    });
    p.stats.forEach((t, k) => {
      graphic.push({
        type: "text", x: p.sx, y: p.sy[k], z: 20,
        style: { text: t, fill: "#1a1a1a", fontFamily: SERIF, fontSize: 60, verticalAlign: "middle" },
      });
    });
  });

  /* colour bar */
  grid.push({ left: 2760, top: 55, width: 40, height: 2335, show: true, borderColor: "#85795a", borderWidth: 4, backgroundColor: "transparent" });
  xAxis.push({ gridIndex: 4, type: "category", data: ["density"], axisLine: { show: false }, axisTick: { show: false }, axisLabel: { show: false } });
  yAxis.push({
    gridIndex: 4, type: "value", min: 0, max: 1, interval: 0.1, position: "right",
    splitLine: { show: false }, axisLine: { show: false },
    axisTick: { show: true, inside: true, length: 18, lineStyle: { color: "#5a4a20", width: 3 } },
    axisLabel: { color: "#222", fontFamily: SERIF, fontSize: 64, margin: 28, formatter: (v: number) => barTicks[Math.round(v * 10)] },
  });
  series.push({
    type: "bar", xAxisIndex: xAxis.length - 1, yAxisIndex: yAxis.length - 1, silent: true, barWidth: "100%",
    data: [1],
    itemStyle: {
      color: new echarts.graphic.LinearGradient(0, 1, 0, 0, colorStops.map(([offset, color]) => ({ offset, color }))),
    },
  });

  /* axis titles */
  const rich = {
    a: { fontFamily: SERIF, fontWeight: "bold", fontSize: 80, fill: "#111", lineHeight: 94 },
    s: { fontFamily: SERIF, fontWeight: "bold", fontSize: 50, fill: "#111", lineHeight: 94, verticalAlign: "bottom" },
  };
  const titleText = (first: string) => `{a|${first} PM}{s|2.5}{a|(unit:μg/m³)}`;
  graphic.push({
    type: "text", x: 83, y: 1238, rotation: Math.PI / 2, z: 20,
    style: { text: titleText("Observed"), rich, align: "center", verticalAlign: "middle", fontFamily: SERIF },
  });
  graphic.push({
    type: "text", x: 1561, y: 2576, z: 20,
    style: { text: titleText("Estimated"), rich, align: "center", verticalAlign: "middle", fontFamily: SERIF },
  });

  return { animation: false, backgroundColor: "#fff", grid, xAxis, yAxis, series, graphic };
}

export default function App() {
  const ref = useRef<HTMLDivElement>(null);
  useEffect(() => {
    if (!ref.current) return;
    const chart = echarts.init(ref.current, undefined, { renderer: "svg" });
    chart.setOption(buildOption() as any);
    return () => chart.dispose();
  }, []);
  return <div ref={ref} style={{ position: "fixed", left: 0, top: 0, width: 2946, height: 2655, background: "#fff" }} />;
}
